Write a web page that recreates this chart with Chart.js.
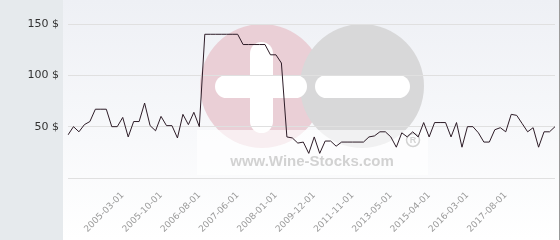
<!DOCTYPE html>
<html>
<head>
<meta charset="utf-8">
<script src="https://cdn.jsdelivr.net/npm/chart.js@4.4.1/dist/chart.umd.min.js"></script>
<style>
  body { margin: 0; }
  #wrap {
    position: relative;
    width: 560px;
    height: 240px;
    background:
      linear-gradient(to right, #e6eaed 0, #e6eaed 63px, transparent 63px),
      linear-gradient(to bottom, #eef0f5, #ffffff);
  }
  #wrap::after {
    content: "";
    position: absolute;
    right: 0; top: 0;
    width: 1px; height: 240px;
    background: #9a9a9a;
  }
</style>
</head>
<body>
<div id="wrap"><canvas id="chart"></canvas></div>
<script>
// price history, one value per listed date (90 points)
const prices = [
  42, 50, 45, 52, 55, 67, 67, 67, 50, 50,
  59, 40, 55, 55, 73, 51, 46, 60, 51, 51,
  39, 62, 52, 64, 50, 140, 140, 140, 140, 140,
  140, 140, 130, 130, 130, 130, 130, 120, 120, 112,
  40, 39, 34, 35, 24, 40, 24, 36, 36, 31,
  35, 35, 35, 35, 35, 40, 41, 45, 45, 40,
  30, 44, 40, 45, 40, 54, 40, 54, 54, 54,
  40, 54, 30, 50, 50, 44, 35, 35, 47, 49,
  45, 62, 61, 53, 45, 49, 30, 45, 45, 50
];

// dates that are shown on the x axis
const tickDates = [
  '2005-03-01', '2005-10-01', '2006-08-01', '2007-06-01', '2008-01-01',
  '2009-12-01', '2011-11-01', '2013-05-01', '2015-04-01', '2016-03-01',
  '2017-08-01'
];
const firstTick = 10;
const tickEvery = 7;

const yTicks = [50, 100, 150];

// categories: label only where a date is shown
const labels = prices.map((p, i) => {
  const k = (i - firstTick) / tickEvery;
  return (Number.isInteger(k) && k >= 0 && k < tickDates.length) ? tickDates[k] : '';
});

// Wine-Stocks logo behind the plot
const watermark = {
  id: 'watermark',
  beforeDraw(chart) {
    const c = chart.ctx;
    c.save();
    // pink circle with plus
    c.fillStyle = '#eacfd6';
    c.beginPath(); c.arc(262, 86, 62, 0, Math.PI * 2); c.fill();
    // grey circle with minus
    c.fillStyle = '#d8d8d9';
    c.beginPath(); c.arc(362, 86, 62, 0, Math.PI * 2); c.fill();

    c.fillStyle = '#ffffff';
    const bar = (x, y, w, h) => {
      const r = Math.min(w, h) / 2;
      c.beginPath();
      c.moveTo(x + r, y);
      c.arcTo(x + w, y, x + w, y + h, r);
      c.arcTo(x + w, y + h, x, y + h, r);
      c.arcTo(x, y + h, x, y, r);
      c.arcTo(x, y, x + w, y, r);
      c.closePath();
      c.fill();
    };
    bar(215, 75, 92, 23);
    bar(250, 42, 23, 91);
    bar(315, 75, 95, 23);

    // faded lower band with the site name
    c.fillStyle = 'rgba(255,255,255,0.65)';
    c.fillRect(197, 130, 231, 45);
    c.fillStyle = '#d2d2d2';
    c.font = 'bold 15px "Liberation Sans", Arial, sans-serif';
    c.textAlign = 'center';
    c.textBaseline = 'alphabetic';
    c.fillText('www.Wine-Stocks.com', 312, 166);
    c.strokeStyle = '#d2d2d2';
    c.lineWidth = 1.5;
    c.beginPath(); c.arc(413, 140, 6.5, 0, Math.PI * 2); c.stroke();
    c.font = 'bold 9px "Liberation Sans", Arial, sans-serif';
    c.textBaseline = 'middle';
    c.fillText('R', 413, 140.5);
    c.restore();
  }
};

new Chart(document.getElementById('chart'), {
  type: 'line',
  data: {
    labels: labels,
    datasets: [{
      data: prices,
      borderColor: '#2d1c27',
      borderWidth: 1,
      pointRadius: 0,
      tension: 0,
      fill: false
    }]
  },
  options: {
    responsive: true,
    maintainAspectRatio: false,
    animation: false,
    layout: { padding: { top: 24, right: 5, left: 0, bottom: 0 } },
    plugins: { legend: { display: false }, tooltip: { enabled: false } },
    scales: {
      x: {
        grid: { display: false },
        border: { display: false },
        afterFit: (s) => { s.height = 62; s.paddingLeft = 0; s.paddingRight = 0; },
        ticks: {
          autoSkip: false,
          minRotation: 45,
          maxRotation: 45,
          padding: 4,
          color: '#9a9a9a',
          font: { family: 'DejaVu Sans', size: 9 }
        }
      },
      y: {
        min: 0,
        max: 150,
        afterFit: (s) => { s.width = 68; },
        afterBuildTicks: (s) => { s.ticks = [0].concat(yTicks).map(v => ({ value: v })); },
        grid: { color: '#e0e0e0', drawTicks: false },
        border: { display: false },
        ticks: {
          padding: 9,
          color: '#333333',
          font: { family: 'DejaVu Sans', size: 11 },
          callback: (v) => v === 0 ? '' : v + ' $'
        }
      }
    }
  },
  plugins: [watermark]
});
</script>
</body>
</html>
